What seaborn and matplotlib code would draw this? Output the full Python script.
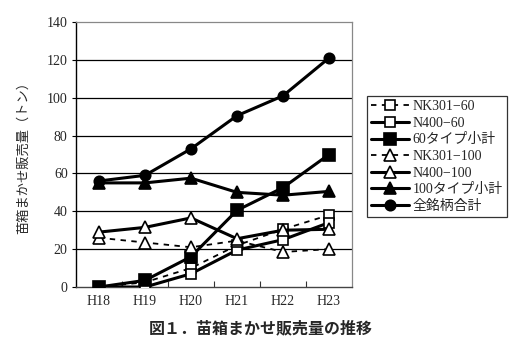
import matplotlib
matplotlib.use("Agg")
import matplotlib.pyplot as plt
from matplotlib.ticker import FixedLocator
import seaborn as sns
import pandas as pd

# Fiscal years (Heisei era)
years = ["H18", "H19", "H20", "H21", "H22", "H23"]

# Sales volume of seedling boxes (tonnes)
nk301_60 = [0, 2.5, 10, 22, 30.5, 38]
n400_60 = [0, 0, 7, 19.5, 25, 34]
type60_total = [0, 3.5, 16, 40.5, 52.5, 70]
nk301_100 = [26, 23.5, 21, 24.5, 18.5, 20]
n400_100 = [29, 31.5, 36.5, 25.5, 30, 30.5]
type100_total = [55, 55, 57.5, 50, 48.5, 50.5]
all_total = [56, 59, 73, 90.5, 101, 121]

series_names = ["NK301−60", "N400−60", "60タイプ小計", "NK301−100",
                "N400−100", "100タイプ小計", "全銘柄合計"]
series_values = [nk301_60, n400_60, type60_total, nk301_100,
                 n400_100, type100_total, all_total]

# (marker, filled, dashed, line width, marker size)
styles = [
    ("s", False, True, 1.3, 7),
    ("s", False, False, 2.2, 7),
    ("s", True, False, 2.2, 8.5),
    ("^", False, True, 1.3, 8),
    ("^", False, False, 2.2, 8),
    ("^", True, False, 2.2, 8),
    ("o", True, False, 2.2, 7.5),
]

sns.set_theme(style="white")
plt.rcParams["font.family"] = ["Liberation Serif", "Noto Sans CJK JP"]

fig = plt.figure(figsize=(5.26, 3.49), dpi=100)
ax = fig.add_axes([76 / 526, 1 - 287 / 349, 276 / 526, 265 / 349])

x_pos = list(range(len(years)))
for name, vals, (mk, filled, dashed, lw, ms) in zip(series_names, series_values, styles):
    df = pd.DataFrame({"x": x_pos, "y": vals})
    sns.lineplot(
        data=df, x="x", y="y", ax=ax, color="black", linewidth=lw,
        linestyle=(0, (3, 3)) if dashed else "-",
        marker=mk, markersize=ms,
        markerfacecolor="black" if filled else "white",
        markeredgecolor="black", markeredgewidth=1.2,
        label=name, zorder=3,
    )

ax.set_xlim(-0.5, len(years) - 0.5)
ax.set_ylim(0, 140)
ax.set_yticks(range(0, 141, 20))
ax.set_xticks(x_pos)
ax.set_xticklabels(years)
ax.xaxis.set_minor_locator(FixedLocator([i + 0.5 for i in range(len(years) - 1)]))
ax.tick_params(axis="x", which="major", length=0, pad=6, labelsize=10)
ax.tick_params(axis="x", which="minor", direction="in", length=4, width=0.8,
               color="#333333", bottom=True)
ax.tick_params(axis="y", which="major", direction="out", length=3, width=0.8,
               color="black", left=True, labelsize=10, pad=3)

for yv in range(20, 140, 20):
    ax.axhline(yv, color="black", linewidth=0.9, zorder=1)

ax.spines["left"].set_color("black")
ax.spines["left"].set_linewidth(1.0)
ax.spines["bottom"].set_color("#444444")
ax.spines["bottom"].set_linewidth(1.0)
for side in ("top", "right"):
    ax.spines[side].set_color("#888888")
    ax.spines[side].set_linewidth(0.9)

ax.set_xlabel("")
ax.set_ylabel("苗箱まかせ販売量（トン）", family=["Noto Sans CJK JP"], fontsize=9.5,
              labelpad=12)

leg = ax.legend(loc="upper left", bbox_to_anchor=(367 / 526, 1 - 96 / 349),
                bbox_transform=fig.transFigure, borderaxespad=0,
                frameon=True, fancybox=False, edgecolor="black",
                handlelength=2.7, handletextpad=0.3, labelspacing=0.26,
                borderpad=0.3, fontsize=10)
leg.get_frame().set_linewidth(0.9)

fig.text(0.496, 0.06, "図１．苗箱まかせ販売量の推移", ha="center", va="center",
         family=["Noto Sans CJK JP"], fontsize=11.5, fontweight="bold")

fig.savefig("out.png", dpi=100, facecolor="white")
